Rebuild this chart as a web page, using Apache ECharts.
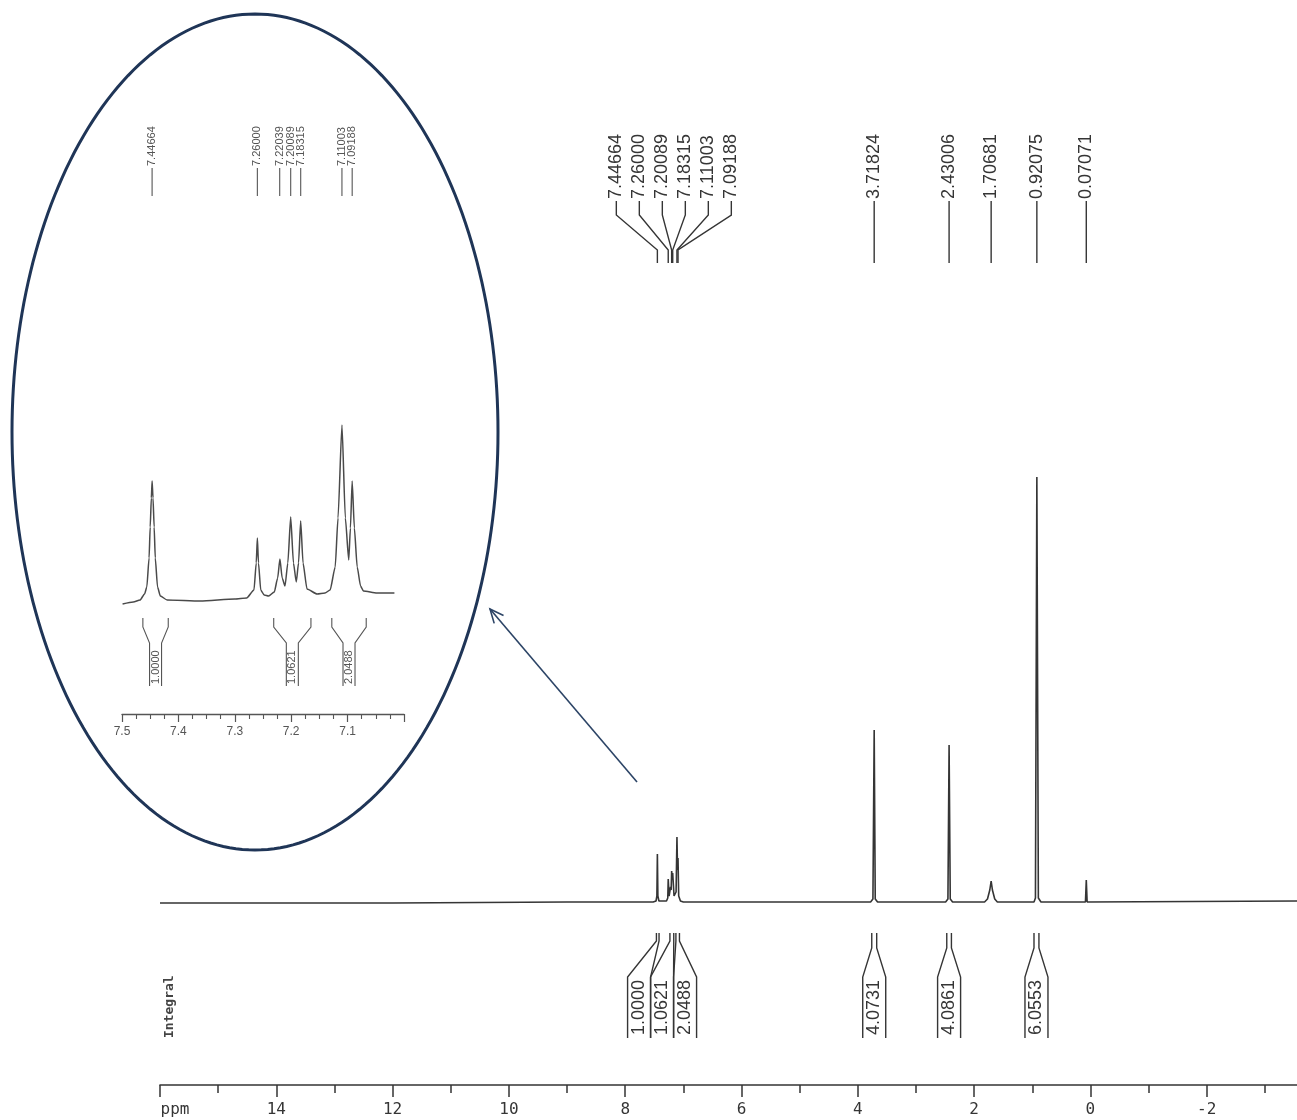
<!DOCTYPE html>
<html><head><meta charset="utf-8">
<script src="https://cdn.jsdelivr.net/npm/echarts@6/dist/echarts.min.js"></script>
<style>html,body{margin:0;padding:0;background:#fff}#c{width:1297px;height:1120px}</style>
</head><body><div id="c"></div>
<script>
// ---------------- data ----------------
const axisMin = -4, axisMax = 16, axisStep = 2;
const insetMin = 7.0, insetMax = 7.5, insetStep = 0.1;

// main 1H trace: [ppm, intensity]
const mainTrace = [
  [16.0, -1],[12.0, -1],[9.0, 0],[7.52, 0],[7.47, 1],[7.455, 6],[7.4466, 48],[7.438, 6],[7.42, 1],
  [7.29, 1],[7.268, 4],[7.26, 23],[7.245, 6],[7.2204, 15],[7.21, 12],[7.2009, 31],[7.192, 22],
  [7.1832, 29],[7.16, 6],[7.125, 10],[7.11, 65],[7.10, 32],[7.0919, 44],[7.08, 6],[7.05, 1],
  [7.0, 0],[5.0, 0],[3.78, 0],[3.74, 3],[3.7182, 172],[3.70, 3],[3.66, 0],
  [2.49, 0],[2.45, 3],[2.4301, 157],[2.41, 3],[2.37, 0],
  [1.82, 0],[1.77, 3],[1.73, 12],[1.7068, 21],[1.685, 12],[1.645, 3],[1.60, 0],
  [1.08, 0],[1.05, 2],[1.02, 0],[0.97, 0],[0.945, 4],[0.9208, 425],[0.895, 4],[0.85, 0],
  [0.76, 0],[0.73, 2],[0.70, 0],[0.085, 0],[0.0707, 22],[0.056, 0],[-3.6, 1]
];

// expanded aromatic region trace: [ppm, intensity]
const insetTrace = [
  [7.499, -6],[7.480, -4],[7.468, -2],[7.460, 4],[7.456, 11],[7.452, 40],[7.450, 71],[7.448, 100],
  [7.4466, 117],[7.445, 100],[7.443, 71],[7.441, 40],[7.437, 11],[7.432, 2],[7.420, -2],
  [7.361, -3],[7.300, -1],[7.279, 0],[7.266, 8],[7.262, 35],[7.260, 60],[7.258, 35],[7.254, 8],
  [7.248, 3],[7.240, 2],[7.230, 6],[7.224, 20],[7.220, 39],[7.216, 20],[7.211, 12],[7.206, 35],
  [7.2009, 81],[7.196, 35],[7.191, 16],[7.187, 35],[7.1832, 77],[7.179, 35],[7.172, 9],
  [7.154, 4],[7.140, 5],[7.131, 8],[7.122, 31],[7.117, 80],[7.110, 173],[7.104, 80],[7.098, 38],
  [7.095, 70],[7.0919, 117],[7.088, 70],[7.083, 31],[7.077, 12],[7.072, 7],[7.048, 5],[7.017, 5]
];

const peakShifts = [7.44664, 7.26000, 7.20089, 7.18315, 7.11003, 7.09188, 3.71824, 2.43006, 1.70681, 0.92075, 0.07071];
const peakGroup = [0, 0, 0, 0, 0, 0, 1, 2, 3, 4, 5];
const insetPeakShifts = [7.44664, 7.26000, 7.22039, 7.20089, 7.18315, 7.11003, 7.09188];

const integralValues = [1.0000, 1.0621, 2.0488, 4.0731, 4.0861, 6.0553];
const integralFrom = [7.463, 7.231, 7.128, 3.760, 2.470, 0.970];
const integralTo = [7.418, 7.165, 7.067, 3.675, 2.390, 0.885];
const integralGroup = [0, 0, 0, 1, 2, 3];
const insetIntegralIdx = [0, 1, 2];

// ---------------- chart ----------------
const ink = '#353535';
const navy = '#1f3557';
const chart = echarts.init(document.getElementById('c'), null, {renderer: 'canvas'});

chart.setOption({
  backgroundColor: '#ffffff',
  animation: false,
  grid: [
    {left: 160, right: -26, top: 40, bottom: 35, containLabel: false, outerBoundsMode: 'none'},
    {left: 122, width: 282, top: 380, height: 334, containLabel: false, outerBoundsMode: 'none'}
  ],
  xAxis: [
    {
      gridIndex: 0, type: 'value', min: axisMin, max: axisMax, interval: axisStep, inverse: true,
      axisLine: {onZero: false, lineStyle: {color: ink, width: 1.6}},
      axisTick: {show: true, length: 12, lineStyle: {color: ink, width: 1.5}},
      minorTick: {show: true, splitNumber: 2, length: 8, lineStyle: {color: ink, width: 1.5}},
      splitLine: {show: false}, minorSplitLine: {show: false},
      axisLabel: {
        color: ink, fontFamily: 'DejaVu Sans Mono', fontSize: 16, margin: 17,
        formatter: v => (Math.abs(v - axisMax) < 1e-6 ? '{p|ppm}' : String(Math.round(v))),
        rich: {p: {fontFamily: 'DejaVu Sans Mono', fontSize: 16, color: ink, padding: [0, 0, 0, 30]}}
      }
    },
    {
      gridIndex: 1, type: 'value', min: insetMin, max: insetMax, interval: insetStep, inverse: true,
      axisLine: {onZero: false, lineStyle: {color: '#555', width: 1.4}},
      axisTick: {show: true, length: 8, lineStyle: {color: '#555', width: 1.2}},
      minorTick: {show: true, splitNumber: 4, length: 5, lineStyle: {color: '#555', width: 1.1}},
      splitLine: {show: false}, minorSplitLine: {show: false},
      axisLabel: {
        color: '#555', fontFamily: 'Liberation Sans', fontSize: 12, margin: 12,
        formatter: v => (v < insetMin + 0.05 ? '' : v.toFixed(1))
      }
    }
  ],
  yAxis: [
    {gridIndex: 0, type: 'value', min: -183, max: 862, show: false},
    {gridIndex: 1, type: 'value', min: -116, max: 218, show: false}
  ],
  series: [
    {
      type: 'line', xAxisIndex: 0, yAxisIndex: 0, data: mainTrace,
      showSymbol: false, symbol: 'none', lineStyle: {color: ink, width: 1.6}, silent: true
    },
    {
      type: 'line', xAxisIndex: 1, yAxisIndex: 1, data: insetTrace,
      showSymbol: false, symbol: 'none', smooth: 0.2, smoothMonotone: 'x',
      lineStyle: {color: '#4a4a4a', width: 1.5}, silent: true
    }
  ]
});

// ---------------- annotations (positions derived from the axes) ----------------
const pxMain = p => chart.convertToPixel({gridIndex: 0}, [p, 0])[0];
const pxInset = p => chart.convertToPixel({gridIndex: 1}, [p, 0])[0];
const g = [];
const lineStyle = (c, w) => ({stroke: c, lineWidth: w, fill: null});

// main peak labels
const groups = {};
peakShifts.forEach((p, i) => { (groups[peakGroup[i]] = groups[peakGroup[i]] || []).push(i); });
Object.values(groups).forEach(members => {
  const n = members.length;
  const pxs = members.map(i => pxMain(peakShifts[i]));
  const center = pxs.reduce((a, b) => a + b, 0) / n;
  members.forEach((i, k) => {
    const px = pxs[k];
    const lx = n === 1 ? px : center + 3 + (k - (n - 1) / 2) * 23;
    const pts = n === 1 ? [[px, 201], [px, 263]] : [[lx, 201], [lx, 215], [px, 250], [px, 263]];
    g.push({type: 'polyline', shape: {points: pts}, style: lineStyle(ink, 1.4), silent: true});
    g.push({type: 'text', x: lx, y: 199, rotation: Math.PI / 2,
      style: {text: peakShifts[i].toFixed(5), fill: ink, font: '18px "Liberation Sans"', align: 'left', verticalAlign: 'middle'}});
  });
});

// main integrals
const igroups = {};
integralValues.forEach((v, i) => { (igroups[integralGroup[i]] = igroups[integralGroup[i]] || []).push(i); });
Object.values(igroups).forEach(members => {
  const n = members.length;
  const cs = members.map(i => (pxMain(integralFrom[i]) + pxMain(integralTo[i])) / 2);
  const gc = cs.reduce((a, b) => a + b, 0) / n;
  members.forEach((i, k) => {
    const c = n === 1 ? cs[k] : gc - 7 + (k - (n - 1) / 2) * 23;
    const w = 11.5;
    const sy = n === 1 ? 948 : 941;
    const sL = pxMain(integralFrom[i]), sR = pxMain(integralTo[i]);
    g.push({type: 'polyline', shape: {points: [[c - w, 1038], [c - w, 977], [sL, sy], [sL, 933]]}, style: lineStyle(ink, 1.4), silent: true});
    g.push({type: 'polyline', shape: {points: [[c + w, 1038], [c + w, 977], [sR, sy], [sR, 933]]}, style: lineStyle(ink, 1.4), silent: true});
    g.push({type: 'text', x: c, y: 1035, rotation: Math.PI / 2,
      style: {text: integralValues[i].toFixed(4), fill: ink, font: '18px "Liberation Sans"', align: 'left', verticalAlign: 'middle'}});
  });
});

// inset peak labels
insetPeakShifts.forEach(p => {
  const px = pxInset(p);
  g.push({type: 'line', shape: {x1: px, y1: 168, x2: px, y2: 196}, style: lineStyle('#555', 1.1), silent: true});
  g.push({type: 'text', x: px, y: 166, rotation: Math.PI / 2,
    style: {text: p.toFixed(5), fill: '#555', font: '11px "Liberation Sans"', align: 'left', verticalAlign: 'middle'}});
});

// inset integrals
insetIntegralIdx.forEach(i => {
  const aL = pxInset(integralFrom[i]), aR = pxInset(integralTo[i]);
  const c = (aL + aR) / 2, w = 6;
  g.push({type: 'polyline', shape: {points: [[aL, 618], [aL, 627], [c - w, 643], [c - w, 686]]}, style: lineStyle('#555', 1.1), silent: true});
  g.push({type: 'polyline', shape: {points: [[aR, 618], [aR, 627], [c + w, 643], [c + w, 686]]}, style: lineStyle('#555', 1.1), silent: true});
  g.push({type: 'text', x: c, y: 684, rotation: Math.PI / 2,
    style: {text: integralValues[i].toFixed(4), fill: '#555', font: '11px "Liberation Sans"', align: 'left', verticalAlign: 'middle'}});
});

// "Integral" caption
g.push({type: 'text', x: 170, y: 1038, rotation: Math.PI / 2,
  style: {text: 'Integral', fill: '#444', font: 'bold 13px "DejaVu Sans Mono"', align: 'left', verticalAlign: 'middle'}});

// magnifier ellipse and arrow (decoration)
const ell = [];
for (let t = 0; t < 240; t++) {
  const a = t / 240 * Math.PI * 2;
  ell.push([255 + 243 * Math.cos(a), 432 + 418 * Math.sin(a)]);
}
g.push({type: 'polygon', shape: {points: ell}, style: {stroke: navy, lineWidth: 3, fill: null}, silent: true});
const ax1 = 637, ay1 = 782, ax2 = 490, ay2 = 609;
const ang = Math.atan2(ay1 - ay2, ax1 - ax2);
const hl = 15, ha = 0.42;
g.push({type: 'line', shape: {x1: ax1, y1: ay1, x2: ax2, y2: ay2}, style: lineStyle('#2c4466', 1.6), silent: true});
g.push({type: 'polyline', shape: {points: [
  [ax2 + hl * Math.cos(ang + ha), ay2 + hl * Math.sin(ang + ha)], [ax2, ay2],
  [ax2 + hl * Math.cos(ang - ha), ay2 + hl * Math.sin(ang - ha)]]}, style: lineStyle('#2c4466', 1.6), silent: true});

chart.setOption({graphic: g});
</script>
</body></html>
